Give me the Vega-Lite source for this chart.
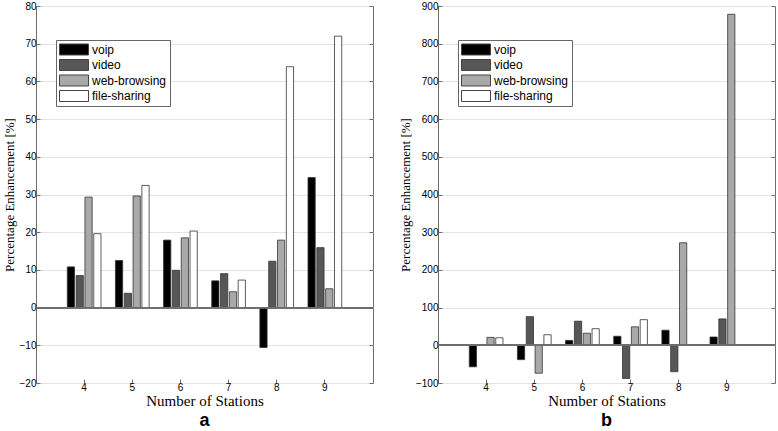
{
  "$schema": "https://vega.github.io/schema/vega-lite/v6.json",
  "padding": {"left": 2, "top": 0, "right": 0, "bottom": 0},
  "background": "white",
  "spacing": 65,
  "bounds": "flush",
  "datasets": {
    "a": [
      {"station": 4, "type": "voip", "value": 10.8},
      {"station": 4, "type": "video", "value": 8.5},
      {"station": 4, "type": "web-browsing", "value": 29.3},
      {"station": 4, "type": "file-sharing", "value": 19.6},
      {"station": 5, "type": "voip", "value": 12.5},
      {"station": 5, "type": "video", "value": 3.8},
      {"station": 5, "type": "web-browsing", "value": 29.6},
      {"station": 5, "type": "file-sharing", "value": 32.4},
      {"station": 6, "type": "voip", "value": 17.9},
      {"station": 6, "type": "video", "value": 9.9},
      {"station": 6, "type": "web-browsing", "value": 18.5},
      {"station": 6, "type": "file-sharing", "value": 20.3},
      {"station": 7, "type": "voip", "value": 7.1},
      {"station": 7, "type": "video", "value": 9.0},
      {"station": 7, "type": "web-browsing", "value": 4.2},
      {"station": 7, "type": "file-sharing", "value": 7.3},
      {"station": 8, "type": "voip", "value": -10.6},
      {"station": 8, "type": "video", "value": 12.3},
      {"station": 8, "type": "web-browsing", "value": 17.9},
      {"station": 8, "type": "file-sharing", "value": 63.9},
      {"station": 9, "type": "voip", "value": 34.5},
      {"station": 9, "type": "video", "value": 15.9},
      {"station": 9, "type": "web-browsing", "value": 5.0},
      {"station": 9, "type": "file-sharing", "value": 72.0}
    ],
    "b": [
      {"station": 4, "type": "voip", "value": -57},
      {"station": 4, "type": "video", "value": 2},
      {"station": 4, "type": "web-browsing", "value": 21},
      {"station": 4, "type": "file-sharing", "value": 20},
      {"station": 5, "type": "voip", "value": -38},
      {"station": 5, "type": "video", "value": 76},
      {"station": 5, "type": "web-browsing", "value": -74},
      {"station": 5, "type": "file-sharing", "value": 28},
      {"station": 6, "type": "voip", "value": 13},
      {"station": 6, "type": "video", "value": 64},
      {"station": 6, "type": "web-browsing", "value": 32},
      {"station": 6, "type": "file-sharing", "value": 44},
      {"station": 7, "type": "voip", "value": 24},
      {"station": 7, "type": "video", "value": -88},
      {"station": 7, "type": "web-browsing", "value": 49},
      {"station": 7, "type": "file-sharing", "value": 68},
      {"station": 8, "type": "voip", "value": 40},
      {"station": 8, "type": "video", "value": -70},
      {"station": 8, "type": "web-browsing", "value": 272},
      {"station": 8, "type": "file-sharing", "value": 2},
      {"station": 9, "type": "voip", "value": 22},
      {"station": 9, "type": "video", "value": 70},
      {"station": 9, "type": "web-browsing", "value": 878},
      {"station": 9, "type": "file-sharing", "value": 2}
    ]
  },
  "config": {
    "view": {"stroke": "#6e6e6e", "strokeWidth": 1},
    "axis": {
      "domain": false,
      "tickColor": "#6e6e6e",
      "tickSize": -4,
      "labelFont": "Liberation Sans",
      "labelFontSize": 10,
      "labelColor": "#000",
      "titleFont": "Liberation Serif",
      "titleFontWeight": "normal",
      "titleColor": "#000",
      "gridColor": "#e3e3e3",
      "gridWidth": 1
    },
    "legend": {
      "orient": "none",
      "legendX": 20,
      "legendY": 34,
      "title": null,
      "strokeColor": "#666",
      "fillColor": "white",
      "padding": 3,
      "symbolType": "M-1,-0.38H1V0.38H-1Z",
      "symbolSize": 841,
      "symbolStrokeColor": "#444",
      "symbolStrokeWidth": 1,
      "labelFont": "Liberation Sans",
      "labelFontSize": 12,
      "labelColor": "#000",
      "labelOffset": 3,
      "clipHeight": 13,
      "rowPadding": 2.5
    },
    "title": {"orient": "bottom", "font": "Liberation Sans", "fontWeight": "bold", "fontSize": 18, "color": "#000", "offset": 0}
  },
  "resolve": {"legend": {"fill": "independent"}, "scale": {"y": "independent"}},
  "hconcat": [
    {
      "title": "a",
      "width": 337,
      "height": 377,
      "data": {"name": "a"},
      "layer": [
        {
          "mark": {"type": "bar", "stroke": "#333", "strokeWidth": 0.8},
          "encoding": {
            "x": {"field": "station", "type": "ordinal", "scale": {"paddingInner": 0.3, "paddingOuter": 0.65},
                  "axis": {"labelAngle": 0, "title": "Number of Stations", "titleFontSize": 15, "labelPadding": 3, "titlePadding": 1}},
            "xOffset": {"field": "type", "sort": ["voip", "video", "web-browsing", "file-sharing"], "scale": {"paddingInner": 0.18}},
            "y": {"field": "value", "type": "quantitative", "scale": {"domain": [-20, 80], "nice": false},
                  "axis": {"values": [-20, -10, 0, 10, 20, 30, 40, 50, 60, 70, 80], "title": "Percentage Enhancement [%]", "titleFontSize": 13, "labelPadding": 4, "titlePadding": 3}},
            "fill": {"field": "type", "type": "nominal",
                     "scale": {"domain": ["voip", "video", "web-browsing", "file-sharing"], "range": ["#000000", "#575757", "#a9a9a9", "#ffffff"]}}
          }
        },
        {
          "mark": {"type": "rule", "color": "#6e6e6e", "strokeWidth": 1},
          "encoding": {
            "y": {"datum": 0, "type": "quantitative",
                  "axis": {"orient": "right", "labels": false, "title": null, "grid": false, "values": [-20, -10, 0, 10, 20, 30, 40, 50, 60, 70, 80]}}
          }
        }
      ],
      "resolve": {"axis": {"y": "independent"}}
    },
    {
      "title": "b",
      "width": 337,
      "height": 377,
      "data": {"name": "b"},
      "layer": [
        {
          "mark": {"type": "bar", "stroke": "#333", "strokeWidth": 0.8},
          "encoding": {
            "x": {"field": "station", "type": "ordinal", "scale": {"paddingInner": 0.3, "paddingOuter": 0.65},
                  "axis": {"labelAngle": 0, "title": "Number of Stations", "titleFontSize": 15, "labelPadding": 3, "titlePadding": 1}},
            "xOffset": {"field": "type", "sort": ["voip", "video", "web-browsing", "file-sharing"], "scale": {"paddingInner": 0.18}},
            "y": {"field": "value", "type": "quantitative", "scale": {"domain": [-100, 900], "nice": false},
                  "axis": {"values": [-100, 0, 100, 200, 300, 400, 500, 600, 700, 800, 900], "title": "Percentage Enhancement [%]", "titleFontSize": 13, "labelPadding": 4, "titlePadding": 3}},
            "fill": {"field": "type", "type": "nominal",
                     "scale": {"domain": ["voip", "video", "web-browsing", "file-sharing"], "range": ["#000000", "#575757", "#a9a9a9", "#ffffff"]}}
          }
        },
        {
          "mark": {"type": "rule", "color": "#6e6e6e", "strokeWidth": 1},
          "encoding": {
            "y": {"datum": 0, "type": "quantitative",
                  "axis": {"orient": "right", "labels": false, "title": null, "grid": false, "values": [-100, 0, 100, 200, 300, 400, 500, 600, 700, 800, 900]}}
          }
        }
      ],
      "resolve": {"axis": {"y": "independent"}}
    }
  ]
}
